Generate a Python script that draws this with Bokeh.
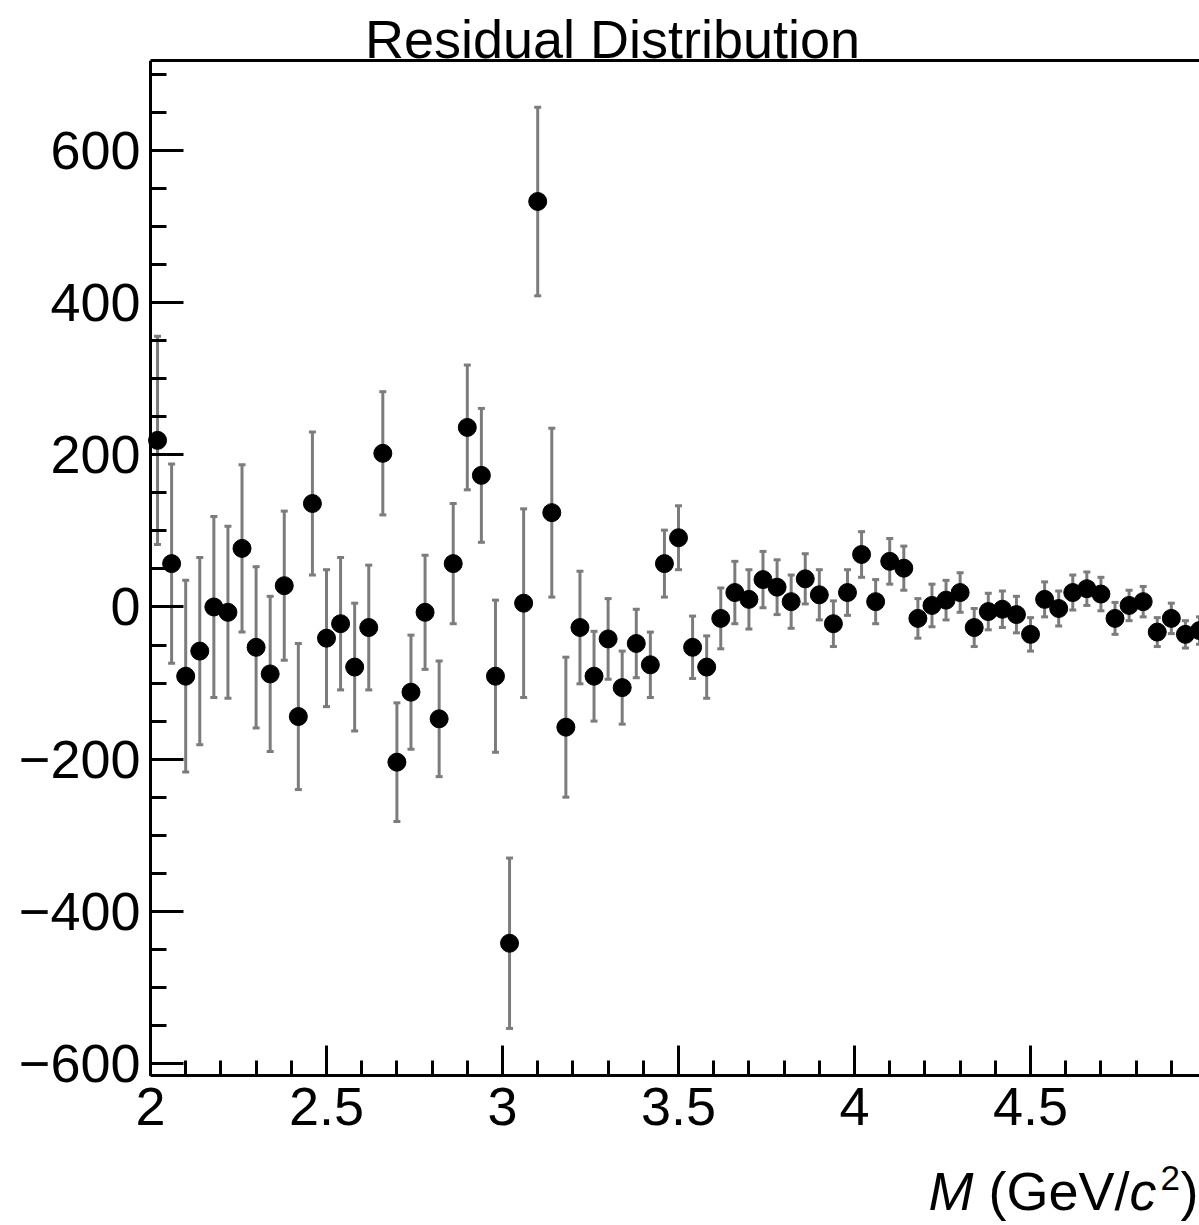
from bokeh.plotting import figure
from bokeh.models import Range1d, FixedTicker, LinearAxis, Label
from bokeh.embed import file_html
from bokeh.resources import INLINE

# ---- data ----
mass = [2.02, 2.06, 2.10, 2.14, 2.18, 2.22, 2.26, 2.30, 2.34, 2.38,
        2.42, 2.46, 2.50, 2.54, 2.58, 2.62, 2.66, 2.70, 2.74, 2.78,
        2.82, 2.86, 2.90, 2.94, 2.98, 3.02, 3.06, 3.10, 3.14, 3.18,
        3.22, 3.26, 3.30, 3.34, 3.38, 3.42, 3.46, 3.50, 3.54, 3.58,
        3.62, 3.66, 3.70, 3.74, 3.78, 3.82, 3.86, 3.90, 3.94, 3.98,
        4.02, 4.06, 4.10, 4.14, 4.18, 4.22, 4.26, 4.30, 4.34, 4.38,
        4.42, 4.46, 4.50, 4.54, 4.58, 4.62, 4.66, 4.70, 4.74, 4.78,
        4.82, 4.86, 4.90, 4.94, 4.98]
residual = [219, 57, -91, -58, 0, -7, 77, -53, -88, 28,
            -144, 136, -41, -22, -79, -27, 202, -204, -112, -7,
            -147, 57, 236, 173, -91, -442, 5, 533, 124, -158,
            -27, -91, -42, -106, -48, -76, 57, 91, -53, -79,
            -15, 19, 10, 36, 26, 7, 37, 16, -22, 19,
            69, 7, 60, 51, -15, 2, 9, 19, -27, -6,
            -3, -10, -36, 10, -2, 19, 24, 17, -15, 2,
            7, -33, -15, -36, -31]
error = [137, 131, 126, 123, 119, 113, 110, 106, 102, 98,
         96, 94, 90, 87, 84, 82, 81, 78, 75, 75,
         76, 79, 82, 88, 100, 112, 124, 124, 111, 92,
         74, 59, 53, 48, 45, 43, 44, 42, 41, 41,
         40, 41, 39, 37, 36, 35, 33, 33, 30, 30,
         30, 29, 30, 29, 26, 28, 26, 26, 25, 24,
         24, 24, 22, 23, 23, 23, 22, 22, 21, 20,
         20, 19, 20, 18, 18]

x_tick_values = [2, 2.5, 3, 3.5, 4, 4.5, 5]
x_tick_labels = ["2", "2.5", "3", "3.5", "4", "4.5", "5"]
x_minor_values = [2.0, 2.1, 2.2, 2.3, 2.4, 2.5, 2.6, 2.7, 2.8, 2.9, 3.0, 3.1, 3.2, 3.3, 3.4,
                  3.5, 3.6, 3.7, 3.8, 3.9, 4.0, 4.1, 4.2, 4.3, 4.4, 4.5, 4.6, 4.7, 4.8, 4.9, 5.0]
y_tick_values = [-600, -400, -200, 0, 200, 400, 600]
y_tick_labels = ["\u2212600", "\u2212400", "\u2212200", "0", "200", "400", "600"]
y_minor_values = [-600, -550, -500, -450, -400, -350, -300, -250, -200, -150, -100, -50, 0,
                  50, 100, 150, 200, 250, 300, 350, 400, 450, 500, 550, 600, 650, 700]

title_text = "Residual Distribution"
x_title_parts = ["M", "(GeV/", "c", "2", ")"]

X_AXIS_MIN, X_AXIS_MAX = 2.0, 4.98
Y_AXIS_MIN, Y_AXIS_MAX = -616, 718.3

FONT = "Liberation Sans"
FS = "54px"
ERR_COLOR = "#7c7c7c"

lo = [r - e for r, e in zip(residual, error)]
hi = [r + e for r, e in zip(residual, error)]

# The frame covers the whole canvas below the top border; the axes are pinned at
# the edges of the visible data interval so that tick labels and the axis title
# lie inside the frame.
p = figure(width=1199, height=1225, output_backend="svg", toolbar_location=None,
           x_range=Range1d(1.5739, X_AXIS_MAX), y_range=Range1d(-813, Y_AXIS_MAX),
           min_border_left=0, min_border_right=0, min_border_top=60, min_border_bottom=0,
           background_fill_color="white", border_fill_color="white")
p.outline_line_color = None
p.grid.visible = False

# x axis
xa = p.xaxis[0]
xa.fixed_location = Y_AXIS_MIN
xa.bounds = (X_AXIS_MIN, X_AXIS_MAX)
xa.ticker = FixedTicker(ticks=x_tick_values, minor_ticks=x_minor_values)
xa.major_label_overrides = dict(zip(x_tick_values, x_tick_labels))
xa.major_tick_in = 30
xa.major_tick_out = 0
xa.minor_tick_in = 15
xa.minor_tick_out = 0
xa.axis_line_width = 3
xa.major_tick_line_width = 3
xa.minor_tick_line_width = 3
xa.major_label_text_font = FONT
xa.major_label_text_font_size = FS
xa.major_label_text_color = "black"
xa.major_label_standoff = 12

# y axis
ya = p.yaxis[0]
ya.fixed_location = X_AXIS_MIN
ya.bounds = (Y_AXIS_MIN, Y_AXIS_MAX)
ya.ticker = FixedTicker(ticks=y_tick_values, minor_ticks=y_minor_values)
ya.major_label_overrides = dict(zip(y_tick_values, y_tick_labels))
ya.major_tick_in = 33
ya.major_tick_out = 0
ya.minor_tick_in = 16
ya.minor_tick_out = 0
ya.axis_line_width = 3
ya.major_tick_line_width = 3
ya.minor_tick_line_width = 3
ya.major_label_text_font = FONT
ya.major_label_text_font_size = FS
ya.major_label_text_color = "black"
ya.major_label_standoff = 10

# top border of the frame
top = LinearAxis(ticker=FixedTicker(ticks=[]), bounds=(X_AXIS_MIN, X_AXIS_MAX),
                 major_tick_line_color=None, minor_tick_line_color=None,
                 major_label_text_font_size="0px", axis_line_width=3)
p.add_layout(top, "above")

# error bars
p.segment(x0=mass, y0=lo, x1=mass, y1=hi, line_color=ERR_COLOR, line_width=3)
p.scatter(x=mass, y=lo, marker="dash", size=7, line_color=ERR_COLOR, line_width=3)
p.scatter(x=mass, y=hi, marker="dash", size=7, line_color=ERR_COLOR, line_width=3)
# points
p.scatter(x=mass, y=residual, marker="circle", size=18, fill_color="black", line_color="black")

# title (side panel so that it is not clipped to the frame)
p.add_layout(Label(x=3.3125, y=747.2, text=title_text,
                   text_align="center", text_baseline="middle",
                   text_font=FONT, text_font_size=FS, text_color="black"), "above")

# x-axis title pieces (inside the frame, below the pinned x axis)
xt_x = [4.2102, 4.3807, 4.7813, 4.8693, 4.9261]
xt_y = [-768.3, -768.3, -768.3, -751.2, -768.3]
xt_style = ["italic", "normal", "italic", "normal", "normal"]
xt_size = [FS, FS, FS, "35px", FS]
for t, xx, yy, st, sz in zip(x_title_parts, xt_x, xt_y, xt_style, xt_size):
    p.add_layout(Label(x=xx, y=yy, text=t, text_align="left", text_baseline="middle",
                       text_font=FONT, text_font_size=sz, text_font_style=st,
                       text_color="black"))

open("out.html", "w").write(file_html(p, INLINE))
